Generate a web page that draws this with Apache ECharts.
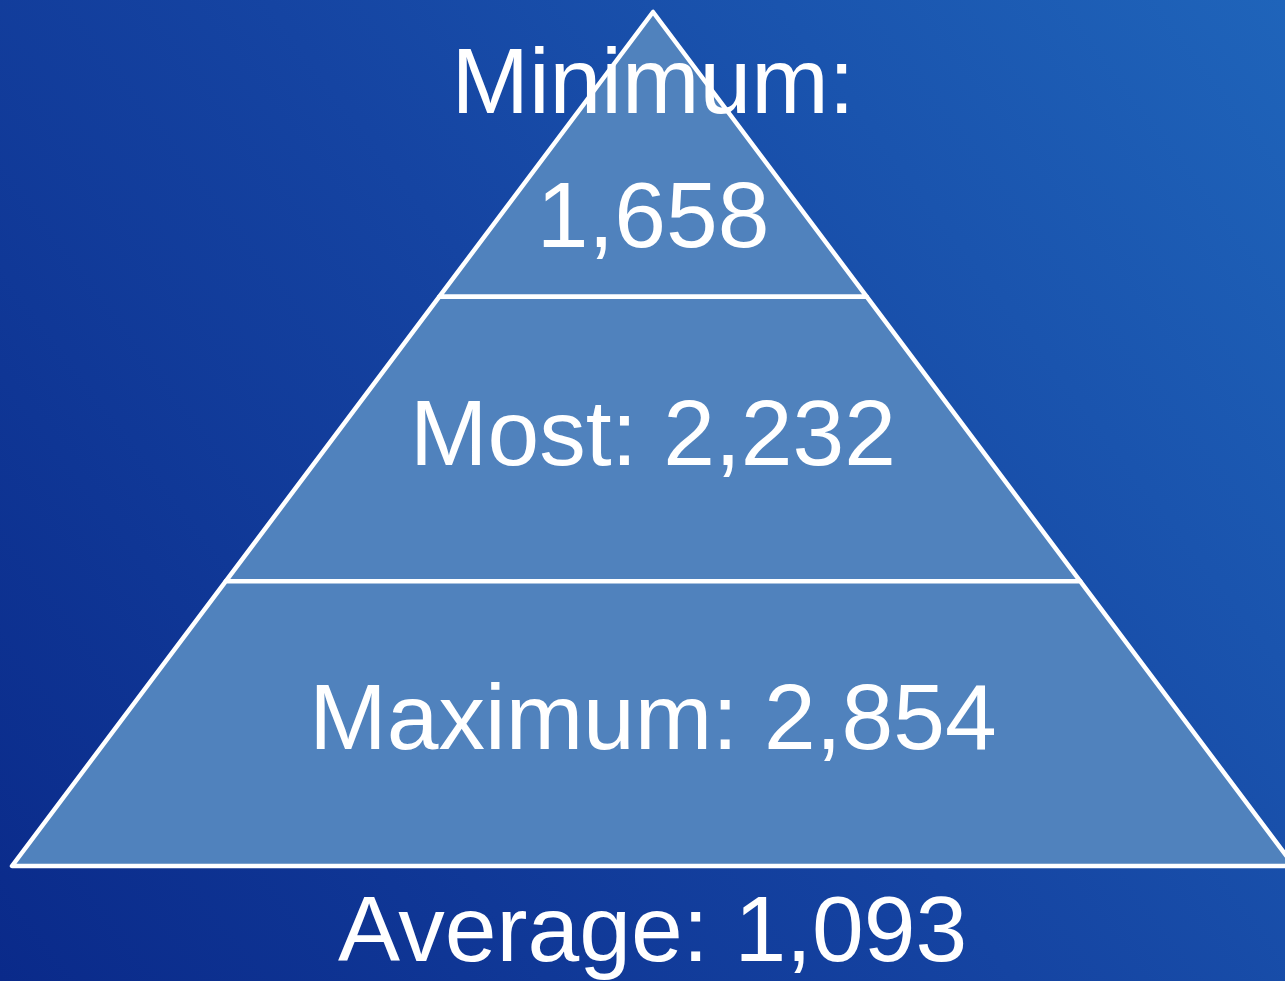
<!DOCTYPE html>
<html>
<head>
<meta charset="utf-8">
<style>
  html, body { margin: 0; padding: 0; }
  #chart { width: 1285px; height: 981px; }
</style>
<script src="https://cdn.jsdelivr.net/npm/echarts@6/dist/echarts.min.js"></script>
</head>
<body>
<div id="chart"></div>
<script>
// pyramid levels, top to bottom
const levelNames = ["Minimum", "Most", "Maximum"];
const levelValues = [1658, 2232, 2854];
// the summary line under the pyramid
const summaryName = "Average";
const summaryValue = 1093;

const fmt = v => v.toLocaleString("en-US");

// every level is one equal step of the pyramid, the real number goes in the label
const pyramidData = levelNames.map((name, i) => {
  const item = { name: name, value: i + 1, realValue: levelValues[i] };
  if (i === 0) {
    // the top level is too narrow, so its label breaks onto two lines
    item.label = { formatter: name + ":\n" + fmt(levelValues[i]) };
  }
  return item;
});

const chart = echarts.init(document.getElementById("chart"));

chart.setOption({
  backgroundColor: {
    type: "linear",
    x: 0, y: 1, x2: 1, y2: 0,
    colorStops: [
      { offset: 0, color: "#0a2a8a" },
      { offset: 0.5, color: "#1544a2" },
      { offset: 1, color: "#1f64ba" }
    ]
  },
  graphic: [
    {
      type: "text",
      left: 338,
      top: 889,
      silent: true,
      style: {
        text: summaryName + ": " + fmt(summaryValue),
        fill: "#ffffff",
        font: "93px 'Liberation Sans', Arial, sans-serif"
      }
    }
  ],
  series: [
    {
      type: "funnel",
      sort: "ascending",
      left: 12,
      top: 12,
      width: 1282,
      height: 854,
      min: 0,
      max: levelNames.length,
      minSize: "0%",
      maxSize: "100%",
      gap: 0,
      silent: true,
      data: pyramidData,
      itemStyle: {
        color: "#5082bd",
        borderColor: "#ffffff",
        borderWidth: 4.5,
        borderJoin: "miter"
      },
      label: {
        show: true,
        position: "inside",
        color: "#ffffff",
        fontFamily: "Liberation Sans, Arial, sans-serif",
        fontSize: 93,
        lineHeight: 134,
        textBorderWidth: 0,
        formatter: p => p.name + ": " + fmt(p.data.realValue)
      },
      labelLine: { show: false },
      emphasis: { disabled: true }
    }
  ]
});
</script>
</body>
</html>
